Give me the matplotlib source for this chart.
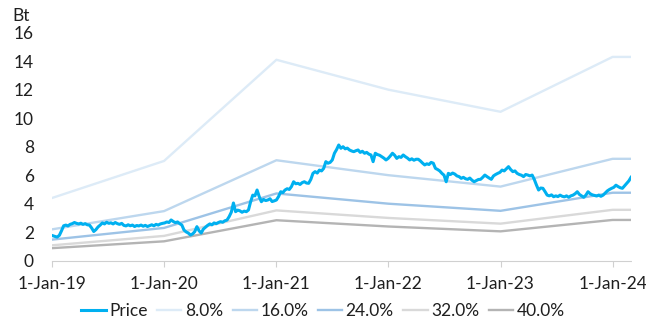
import matplotlib
matplotlib.use("Agg")
import matplotlib.pyplot as plt
import pandas as pd

plt.rcParams["font.family"] = ["Lato", "DejaVu Sans"]

# weekly closing price (Bt)
price = [
    1.75, 1.70, 1.66, 1.78, 2.10, 2.45, 2.50, 2.44, 2.55, 2.60,
    2.68, 2.62, 2.58, 2.63, 2.55, 2.60, 2.52, 2.50, 2.30, 2.05,
    2.18, 2.37, 2.50, 2.65, 2.58, 2.70, 2.62, 2.66, 2.58, 2.68,
    2.60, 2.55, 2.62, 2.48, 2.44, 2.52, 2.45, 2.50, 2.40, 2.47,
    2.44, 2.50, 2.42, 2.48, 2.40, 2.46, 2.52, 2.45, 2.55, 2.50,
    2.58, 2.62, 2.65, 2.72, 2.68, 2.86, 2.75, 2.67, 2.72, 2.60,
    2.50, 2.15, 2.02, 1.94, 1.80, 1.88, 2.04, 2.39, 2.10, 1.94,
    2.22, 2.35, 2.48, 2.58, 2.52, 2.65, 2.60, 2.68, 2.74, 2.70,
    2.80, 2.85, 3.09, 3.40, 4.05, 3.44, 3.55, 3.50, 3.40, 3.48,
    3.44, 3.56, 4.14, 4.60, 4.55, 4.96, 4.50, 4.14, 4.30, 4.22,
    4.26, 4.35, 4.15, 4.20, 4.26, 4.50, 4.84, 4.78, 4.96, 5.05,
    5.00, 5.20, 5.54, 5.40, 5.43, 5.35, 5.48, 5.54, 5.45, 5.43,
    5.70, 6.13, 6.25, 6.15, 6.36, 6.30, 6.48, 6.95, 6.84, 6.90,
    7.07, 7.54, 7.80, 8.12, 7.89, 8.00, 7.85, 7.90, 7.77, 7.70,
    7.65, 7.72, 7.77, 7.60, 7.68, 7.54, 7.60, 7.48, 7.42, 6.95,
    7.54, 7.45, 7.40, 7.30, 7.20, 7.07, 7.18, 7.35, 7.54, 7.40,
    7.18, 7.30, 7.25, 7.42, 7.30, 7.20, 7.07, 7.15, 7.05, 7.12,
    7.12, 7.00, 6.85, 6.72, 6.80, 6.75, 6.90, 6.84, 6.48, 6.40,
    6.30, 6.13, 6.00, 5.54, 6.13, 6.05, 6.15, 6.08, 5.95, 5.90,
    5.78, 5.85, 5.75, 5.71, 5.80, 5.65, 5.54, 5.62, 5.70, 5.71,
    5.85, 6.01, 5.90, 5.80, 5.71, 5.95, 6.05, 6.13, 6.20, 6.36,
    6.30, 6.45, 6.60, 6.40, 6.25, 6.30, 6.13, 6.05, 6.00, 5.90,
    6.05, 6.01, 5.95, 6.01, 5.70, 5.31, 4.96, 5.10, 5.08, 4.85,
    4.60, 4.55, 4.62, 4.49, 4.55, 4.50, 4.60, 4.52, 4.48, 4.55,
    4.45, 4.55, 4.60, 4.70, 4.84, 4.65, 4.55, 4.45, 4.60, 4.84,
    4.70, 4.62, 4.58, 4.54, 4.60, 4.52, 4.60, 4.75, 4.90, 5.00,
    5.08, 5.15, 5.30, 5.20, 5.12, 5.08, 5.25, 5.43, 5.60, 5.85,
]
price_dates = pd.date_range("2019-01-04", periods=len(price), freq="7D")

# yield bands, one point per year plus the last date
band_dates = pd.to_datetime(["2019-01-01", "2020-01-01", "2021-01-01", "2022-01-01",
                             "2023-01-01", "2024-01-01", "2024-03-01"])
band_8 = [4.40, 7.00, 14.10, 12.00, 10.45, 14.30, 14.30]
band_16 = [2.20, 3.48, 7.05, 6.00, 5.20, 7.15, 7.15]
band_24 = [1.48, 2.30, 4.72, 4.00, 3.50, 4.77, 4.77]
band_32 = [1.08, 1.74, 3.53, 3.00, 2.60, 3.57, 3.57]
band_40 = [0.88, 1.36, 2.84, 2.40, 2.06, 2.86, 2.86]
band_labels = ["8.0%", "16.0%", "24.0%", "32.0%", "40.0%"]
band_colors = ["#DDEBF7", "#BDD7EE", "#9DC3E6", "#D9D9D9", "#B4B4B4"]

tick_dates = pd.to_datetime(["2019-01-01", "2020-01-01", "2021-01-01",
                             "2022-01-01", "2023-01-01", "2024-01-01"])
tick_labels = ["1-Jan-19", "1-Jan-20", "1-Jan-21", "1-Jan-22", "1-Jan-23", "1-Jan-24"]

fs = 12.5
txt = "#1f1f1f"

fig = plt.figure(figsize=(6.46, 3.2), dpi=100)
ax = fig.add_axes([52 / 646, 1 - 260.7 / 320, (631 - 52) / 646, 228 / 320])

for vals, lab, col in zip([band_8, band_16, band_24, band_32, band_40], band_labels, band_colors):
    ax.plot(band_dates, vals, color=col, lw=1.7, label=lab, zorder=2)
ax.plot(price_dates, price, color="#00B0F0", lw=2.2, label="Price", zorder=3)

ax.set_xlim(pd.Timestamp("2019-01-01"), pd.Timestamp("2024-03-01"))
ax.set_ylim(0, 16)
ax.set_yticks(range(0, 17, 2))
ax.set_xticks(tick_dates)
ax.set_xticklabels(tick_labels)

for s in ["top", "right", "left"]:
    ax.spines[s].set_visible(False)
ax.spines["bottom"].set_color("#D0D0D0")
ax.spines["bottom"].set_linestyle((0, (1, 1)))
ax.spines["bottom"].set_linewidth(0.8)

ax.tick_params(axis="y", length=0, pad=13, labelsize=fs, labelcolor=txt)
ax.tick_params(axis="x", length=4, color="#D0D0D0", pad=7, labelsize=fs, labelcolor=txt)

fig.text(21 / 646, 1 - 16 / 320, "Bt", fontsize=fs, color=txt, ha="center", va="center")

handles, labels = ax.get_legend_handles_labels()
order = [5, 0, 1, 2, 3, 4]
ax.legend([handles[i] for i in order], [labels[i] for i in order],
          loc="center", bbox_to_anchor=(0.5, 1 - 311 / 320), bbox_transform=fig.transFigure,
          ncol=6, frameon=False, fontsize=fs, handlelength=1.4, handletextpad=0.2,
          columnspacing=0.55, labelcolor=txt)

fig.savefig("out.png", dpi=100)
